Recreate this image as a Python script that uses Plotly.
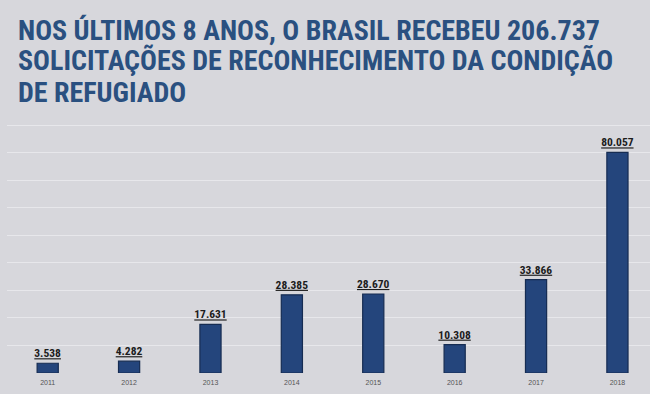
import plotly.graph_objects as go

years = ["2011", "2012", "2013", "2014", "2015", "2016", "2017", "2018"]
requests = [3538, 4282, 17631, 28385, 28670, 10308, 33866, 80057]
labels = ["3.538", "4.282", "17.631", "28.385", "28.670", "10.308", "33.866", "80.057"]
title_lines = ["NOS ÚLTIMOS 8 ANOS, O BRASIL RECEBEU 206.737",
               "SOLICITAÇÕES DE RECONHECIMENTO DA CONDIÇÃO",
               "DE REFUGIADO"]

cond = '<span style="font-stretch:condensed">{}</span>'

W, H = 650, 394
ML, MR, MT, MB = 7, 0, 119, 21
PW, PH = W - ML - MR, H - MT - MB
Y_TOP = 90000 * PH / (H - MB - 125)

fig = go.Figure()
fig.add_trace(go.Bar(
    x=list(range(len(years))),
    y=requests,
    text=labels,
    texttemplate=cond.format("<b><u>%{text}</u></b>"),
    textposition="outside",
    constraintext="none",
    textfont=dict(family="Roboto", size=11.5, color="#1c1c1c"),
    cliponaxis=False,
    marker=dict(color="#24457c", line=dict(color="#162c52", width=1.2)),
    width=0.26,
    hoverinfo="skip",
))

# title lines (cap-centre pixel rows from the top)
line_centres = [31, 61, 92]
for txt, py in zip(title_lines, line_centres):
    fig.add_annotation(
        text=cond.format(txt),
        xref="paper", yref="paper",
        x=(16 - ML) / PW, y=(H - MB - py) / PH,
        xanchor="left", yanchor="middle",
        showarrow=False,
        font=dict(family="Roboto", size=28, color="#2a5080", weight="bold"),
    )

fig.update_layout(
    width=W, height=H,
    paper_bgcolor="#d7d7dc",
    plot_bgcolor="#d7d7dc",
    margin=dict(l=ML, r=MR, t=MT, b=MB),
    showlegend=False,
    xaxis=dict(
        tickmode="array",
        tickvals=list(range(len(years))),
        ticktext=years,
        range=[-0.5, 7.4],
        showgrid=False, zeroline=False, showline=False,
        ticks="", ticklabelstandoff=4,
        tickfont=dict(family="Liberation Sans, Arial, sans-serif", size=7, color="#555555"),
    ),
    yaxis=dict(
        range=[0, Y_TOP],
        dtick=10000,
        showgrid=True, gridcolor="#e7e7eb", gridwidth=1.2,
        zeroline=False, showline=False,
        showticklabels=False, ticks="",
    ),
)

fig.write_html("out.html", config={"displayModeBar": False},
               post_script="document.body.style.margin='0';document.body.style.overflow='hidden';")
